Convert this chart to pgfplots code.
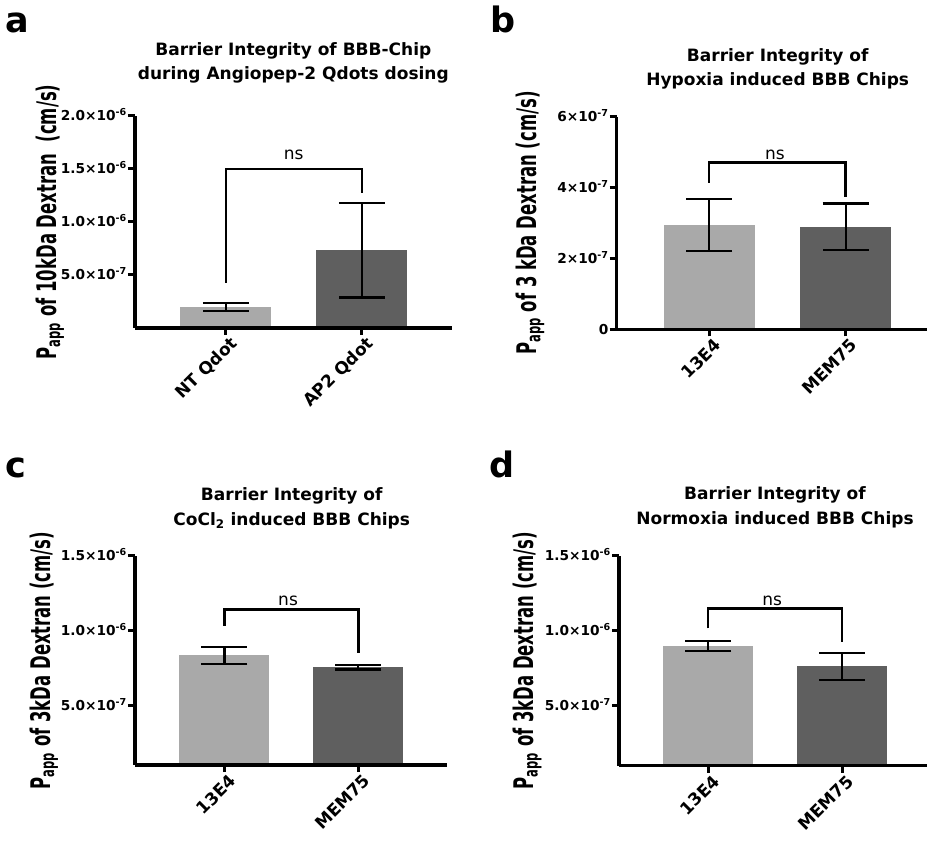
\documentclass[border=0pt]{standalone}
\usepackage{fontspec}
\setmainfont{DejaVu Sans}
\usepackage{graphicx}
\usepackage{pgfplots}
\pgfplotsset{compat=1.18}
\definecolor{barlight}{RGB}{169,169,169}
\definecolor{bardark}{RGB}{95,95,95}
\newcommand{\ylab}[1]{\scalebox{0.61}[1]{#1}}
\pgfplotsset{
  panel/.style={
    scale only axis, axis on top, clip=true, enlargelimits=false,
    axis x line*=bottom, axis y line*=left,
    axis line style={line width=3.2pt,-,black},
    tick style={line width=3pt,black},
    major tick length=7pt, tick align=outside,
    xtick={0,1}, minor tick num=0,
    scaled y ticks=false,
    yticklabel style={font=\fontsize{13.7}{14}\selectfont\bfseries, anchor=base east, yshift=-5pt, inner sep=1pt},
    xticklabel style={font=\fontsize{17}{18}\selectfont\bfseries, rotate=45, anchor=east, inner sep=1pt, xshift=3pt, yshift=-10pt},
    ylabel style={font=\fontsize{27}{28}\selectfont\bfseries, anchor=center},
  },
  bars/.style={ybar, bar width=#1, bar shift=0pt, draw=none,
    error bars/y dir=both, error bars/y explicit,
    error bars/error bar style={line width=2.2pt,black},
    error bars/error mark options={rotate=90, mark size=23pt, line width=2.2pt, black}},
  bracket/.style={sharp plot, no markers, line width=2.5pt, black, forget plot},
}
\begin{document}
\begin{tikzpicture}
\useasboundingbox (0,0) rectangle (927pt,841pt);
% ---------- panel a ----------
\begin{axis}[panel, at={(135pt,513pt)}, anchor=south west,
  width=317pt, height=212.3pt,
  xmin=-0.669, xmax=1.662, ymin=0, ymax=2e-6,
  ytick={5e-7,1e-6,1.5e-6,2e-6},
  yticklabels={5.0×10\textsuperscript{-7},1.0×10\textsuperscript{-6},1.5×10\textsuperscript{-6},2.0×10\textsuperscript{-6}},
  xticklabels={NT Qdot,AP2 Qdot},
  ylabel={\ylab{P\textsubscript{app} of 10kDa Dextran\ \ (cm/s)}},
  ylabel style={at={(axis description cs:-0.268,0.5)}},
]
\addplot[bars=91pt, fill=barlight] coordinates {(0,0.198e-6) +- (0,0.041e-6)};
\addplot[bars=91pt, fill=bardark] coordinates {(1,0.732e-6) +- (0,0.445e-6)};
\addplot[bracket] coordinates {(0,0.427e-6) (0,1.5e-6) (1,1.5e-6) (1,1.275e-6)};
\node[font=\fontsize{17}{18}\selectfont, anchor=base] at (axis cs:0.498,1.583e-6) {ns};
\end{axis}
% ---------- panel b ----------
\begin{axis}[panel, at={(616.7pt,511.7pt)}, anchor=south west,
  width=310.3pt, height=212.6pt,
  xmin=-0.678, xmax=1.596, ymin=0, ymax=6e-7,
  ytick={0,2e-7,4e-7,6e-7},
  yticklabels={0,2×10\textsuperscript{-7},4×10\textsuperscript{-7},6×10\textsuperscript{-7}},
  xticklabels={13E4,MEM75},
  ylabel={\ylab{P\textsubscript{app} of 3 kDa Dextran (cm/s)}},
  ylabel style={at={(axis description cs:-0.279,0.5)}},
]
\addplot[bars=91pt, fill=barlight] coordinates {(0,2.94e-7) +- (0,0.73e-7)};
\addplot[bars=91pt, fill=bardark] coordinates {(1,2.89e-7) +- (0,0.66e-7)};
\addplot[bracket] coordinates {(0,4.14e-7) (0,4.71e-7) (1,4.71e-7) (1,3.74e-7)};
\node[font=\fontsize{17}{18}\selectfont, anchor=base] at (axis cs:0.481,4.80e-7) {ns};
\end{axis}
% ---------- panel c ----------
\begin{axis}[panel, at={(135pt,76pt)}, anchor=south west,
  width=311.7pt, height=209pt,
  xmin=-0.669, xmax=1.661, ymin=1e-7, ymax=1.5e-6,
  ytick={5e-7,1e-6,1.5e-6},
  yticklabels={5.0×10\textsuperscript{-7},1.0×10\textsuperscript{-6},1.5×10\textsuperscript{-6}},
  xticklabels={13E4,MEM75},
  ylabel={\ylab{P\textsubscript{app} of 3kDa Dextran (cm/s)}},
  ylabel style={at={(axis description cs:-0.292,0.5)}},
]
\addplot[bars=90pt, fill=barlight] coordinates {(0,0.834e-6) +- (0,0.057e-6)};
\addplot[bars=90pt, fill=bardark] coordinates {(1,0.754e-6) +- (0,0.014e-6)};
\addplot[bracket] coordinates {(0,1.032e-6) (0,1.142e-6) (1,1.142e-6) (1,0.847e-6)};
\node[font=\fontsize{17}{18}\selectfont, anchor=base] at (axis cs:0.475,1.169e-6) {ns};
\end{axis}
% ---------- panel d ----------
\begin{axis}[panel, at={(619pt,75.3pt)}, anchor=south west,
  width=308pt, height=210pt,
  xmin=-0.664, xmax=1.634, ymin=1e-7, ymax=1.5e-6,
  ytick={5e-7,1e-6,1.5e-6},
  yticklabels={5.0×10\textsuperscript{-7},1.0×10\textsuperscript{-6},1.5×10\textsuperscript{-6}},
  xticklabels={13E4,MEM75},
  ylabel={\ylab{P\textsubscript{app} of 3kDa Dextran (cm/s)}},
  ylabel style={at={(axis description cs:-0.297,0.5)}},
]
\addplot[bars=90pt, fill=barlight] coordinates {(0,0.90e-6) +- (0,0.033e-6)};
\addplot[bars=90pt, fill=bardark] coordinates {(1,0.763e-6) +- (0,0.09e-6)};
\addplot[bracket] coordinates {(0,1.016e-6) (0,1.147e-6) (1,1.147e-6) (1,0.927e-6)};
\node[font=\fontsize{17}{18}\selectfont, anchor=base] at (axis cs:0.478,1.169e-6) {ns};
\end{axis}
% ---------- titles and panel letters ----------
\begin{scope}[every node/.style={font=\fontsize{17}{20}\selectfont\bfseries, anchor=base, inner sep=0pt}]
\node at (293.3pt,785pt) {Barrier Integrity of BBB-Chip};
\node at (293.3pt,761pt) {during Angiopep-2 Qdots dosing};
\node at (777.7pt,779.3pt) {Barrier Integrity of};
\node at (777.7pt,755pt) {Hypoxia induced BBB Chips};
\node at (291.7pt,340pt) {Barrier Integrity of};
\node at (291.7pt,315pt) {CoCl\textsubscript{2} induced BBB Chips};
\node at (775pt,341pt) {Barrier Integrity of};
\node at (775pt,316.7pt) {Normoxia induced BBB Chips};
\end{scope}
\begin{scope}[every node/.style={font=\fontsize{35}{36}\selectfont\bfseries, anchor=base west, inner sep=0pt}]
\node at (5pt,808pt) {a};
\node at (490pt,808pt) {b};
\node at (5pt,363pt) {c};
\node at (489pt,363pt) {d};
\end{scope}
\end{tikzpicture}
\end{document}
